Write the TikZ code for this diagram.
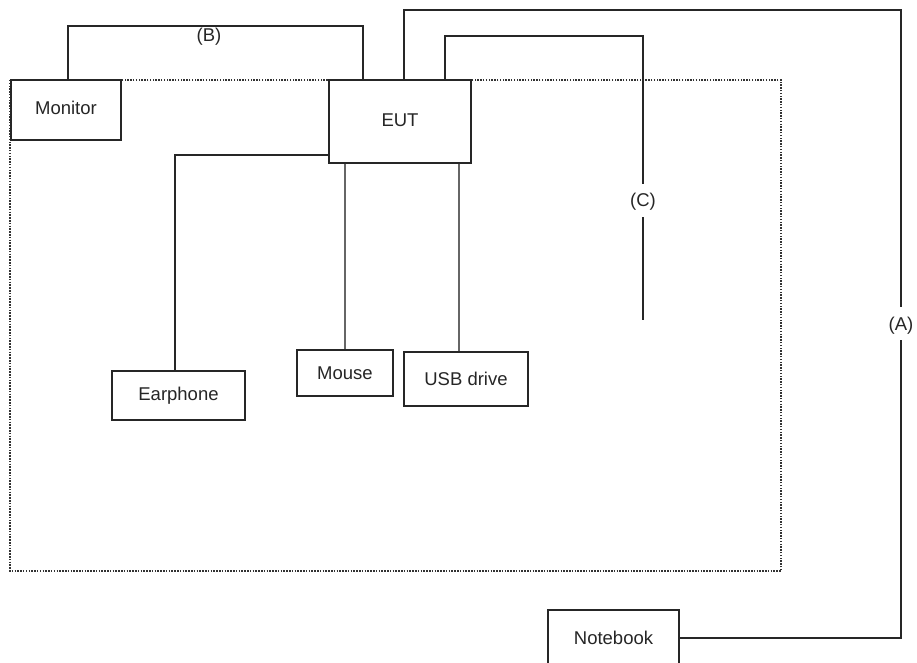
\documentclass[tikz,border=0pt]{standalone}
\usepackage{fontspec}
\setmainfont{Liberation Sans}
\begin{document}
\begin{tikzpicture}[x=1pt,y=-1pt,
  box/.style={draw=black!85,line width=1.2pt,fill=white,inner sep=0pt,font=\fontsize{18.5}{22}\selectfont,text=black!85},
  wire/.style={draw=black!85,line width=1.2pt},
  graywire/.style={draw=black!60,line width=1.4pt},
  lbl/.style={inner sep=0pt,font=\fontsize{18.5}{22}\selectfont,text=black!85},
  area/.style={draw=black!80,line width=1.3pt,dash pattern=on 1.5pt off 1.3pt}]
\useasboundingbox (0,0) rectangle (917,663);
\clip (0,0) rectangle (917,663);
\draw[area] (10,80) rectangle (781,571);
\node[box,minimum width=110pt,minimum height=60pt] (mon) at (66,110) {\raisebox{3.5pt}{Monitor}};
\node[box,minimum width=142pt,minimum height=83pt] (eut) at (400,121.5) {\raisebox{3pt}{EUT}};
\node[box,minimum width=133pt,minimum height=49pt] (ear) at (178.5,395.5) {Earphone};
\node[box,minimum width=96pt,minimum height=46pt] (mouse) at (345,373) {Mouse};
\node[box,minimum width=124pt,minimum height=54pt] (usb) at (466,379) {USB drive};
\node[box,minimum width=131pt,minimum height=56pt] (nb) at (613.5,638) {Notebook};
\node[lbl] (labB) at (209,37) {(B)};
\node[lbl] (labA) at (901,326) {(A)};
\node[lbl] (labC) at (643,202) {(C)};
\coordinate (a1) at (901,307);
\coordinate (a2) at (901,340);
\coordinate (c1) at (643,184);
\coordinate (c2) at (643,217);
\coordinate (c3) at (643,320);
% (B)
\draw[wire] (mon.north -| 68,0) |- (363,26) -- (eut.north -| 363,0);
% (A)
\draw[wire] (eut.north -| 404,0) |- (a1 |- 0,10) -- (a1);
\draw[wire] (a2) |- (nb.east);
% (C)
\draw[wire] (eut.north -| 445,0) |- (c1 |- 0,36) -- (c1);
\draw[wire] (c2) -- (c3);
% Earphone
\draw[wire] (eut.west |- 0,155) -| (ear.north -| 175,0);
% Mouse, USB
\draw[graywire] (eut.south -| mouse.north) -- (mouse.north);
\draw[graywire] (eut.south -| 459,0) -- (usb.north -| 459,0);
\end{tikzpicture}
\end{document}
